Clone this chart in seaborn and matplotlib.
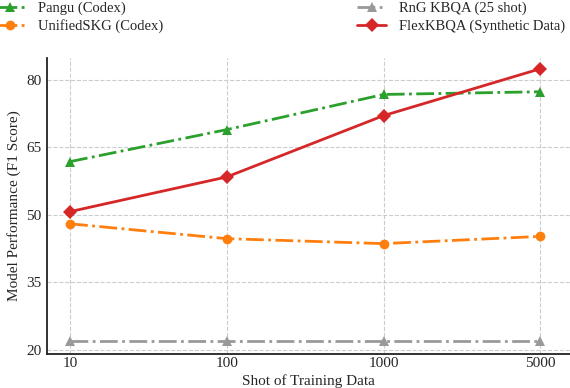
import matplotlib
matplotlib.use("Agg")
import matplotlib.pyplot as plt
import seaborn as sns
import pandas as pd

shots = ["10", "100", "1000", "5000"]
pangu = [61.8, 68.9, 76.7, 77.3]
unified = [48.0, 44.7, 43.6, 45.2]
rng = [22.0, 22.0, 22.0, 22.0]
flex = [50.7, 58.4, 72.0, 82.4]

series = ["Pangu (Codex)", "UnifiedSKG (Codex)", "RnG KBQA (25 shot)", "FlexKBQA (Synthetic Data)"]
values = [pangu, unified, rng, flex]
colors = ["#2ca02c", "#ff7f0e", "#999999", "#d62728"]
markers = ["^", "o", "^", "D"]
styles = ["-.", "-.", "-.", "-"]

sns.set_style("whitegrid", {"grid.linestyle": "--", "grid.color": "#cccccc",
                            "axes.edgecolor": "#222222"})
plt.rcParams['font.family'] = ['Liberation Serif', 'DejaVu Serif']

fig = plt.figure(figsize=(5.7, 3.88), dpi=100)
ax = fig.add_axes([0.0825, 0.0876, 0.9175, 0.763])

for name, vals, c, m, ls in zip(series, values, colors, markers, styles):
    df = pd.DataFrame({"shot": shots, "score": vals})
    sns.lineplot(data=df, x="shot", y="score", ax=ax, color=c, marker=m,
                 linestyle=ls, linewidth=2, markersize=7, markeredgewidth=0,
                 label=name, sort=False)

ax.set_xlim(-0.147, 3.19)
ax.set_ylim(19.1, 84.8)
ax.set_yticks([20, 35, 50, 65, 80])
ax.set_xlabel("Shot of Training Data", fontsize=11, labelpad=3)
ax.set_ylabel("Model Performance (F1 Score)", fontsize=11, labelpad=4)
ax.tick_params(labelsize=11, length=0, pad=2)
ax.tick_params(axis="y", pad=4)
for s in ["top", "right"]:
    ax.spines[s].set_visible(False)
for s in ["left", "bottom"]:
    ax.spines[s].set_linewidth(1.3)

handles, labels = ax.get_legend_handles_labels()
ax.get_legend().remove()
fig.legend(handles, labels, ncol=2, loc="upper left", bbox_to_anchor=(-0.031, 1.03),
           frameon=False, fontsize=10.5, handlelength=2.0, handletextpad=0.9,
           columnspacing=13.3, labelspacing=0.3)

fig.savefig("out.png", dpi=100)
